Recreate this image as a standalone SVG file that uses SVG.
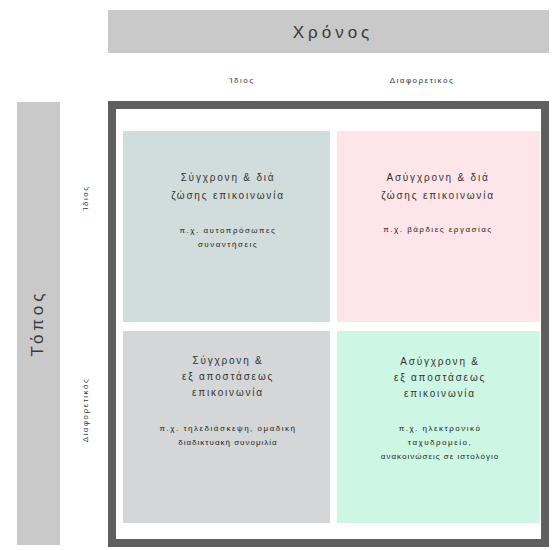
<svg xmlns="http://www.w3.org/2000/svg" width="552" height="550" viewBox="0 0 552 550">
<style>
.bar{fill:#c9c9c9}
.axis{font-family:"Liberation Sans","DejaVu Sans",sans-serif;font-size:17px;fill:#3a3a3a;letter-spacing:4px;text-anchor:middle}
.lab{font-family:"Liberation Sans","DejaVu Sans",sans-serif;font-size:8px;fill:#333;letter-spacing:1.5px;text-anchor:middle}
.t{font-family:"Liberation Sans","DejaVu Sans",sans-serif;font-size:10px;fill:#333;letter-spacing:1.8px;text-anchor:middle}
.e{font-family:"Liberation Sans","DejaVu Sans",sans-serif;font-size:8px;fill:#222;letter-spacing:1.5px;text-anchor:middle}
</style>
<rect width="552" height="550" fill="#fff"/>
<g id="time-axis">
<rect class="bar" x="108" y="10" width="441" height="43"/>
<text class="axis" x="333" y="38">Χρόνος</text>
<text class="lab" x="242" y="83">Ίδιος</text>
<text class="lab" x="422" y="83">Διαφορετικός</text>
</g>
<g id="place-axis">
<rect class="bar" x="17" y="102" width="43" height="443"/>
<text class="axis" transform="translate(43,323) rotate(-90)">Τόπος</text>
<text class="lab" transform="translate(88,198) rotate(-90)">Ίδιος</text>
<text class="lab" transform="translate(88,410) rotate(-90)">Διαφορετικός</text>
</g>
<g id="frame">
<rect x="112" y="105" width="433" height="438" fill="#fff" stroke="#5f5f5f" stroke-width="8"/>
</g>
<g id="q-same-same">
<rect x="123" y="131" width="207" height="191" fill="#d1dcdc"/>
<text class="t" x="228" y="181">Σύγχρονη &amp; διά</text>
<text class="t" x="228" y="199">ζώσης επικοινωνία</text>
<text class="e" x="228" y="233">π.χ. αυτοπρόσωπες</text>
<text class="e" x="228" y="247">συναντήσεις</text>
</g>
<g id="q-diff-same">
<rect x="337" y="131" width="203" height="191" fill="#fde5e9"/>
<text class="t" x="438" y="181">Ασύγχρονη &amp; διά</text>
<text class="t" x="438" y="199">ζώσης επικοινωνία</text>
<text class="e" x="438" y="232">π.χ. βάρδιες εργασίας</text>
</g>
<g id="q-same-diff">
<rect x="123" y="331" width="207" height="192" fill="#d4d6d8"/>
<text class="t" x="228" y="364">Σύγχρονη &amp;</text>
<text class="t" x="228" y="380">εξ αποστάσεως</text>
<text class="t" x="228" y="396">επικοινωνία</text>
<text class="e" x="228" y="431">π.χ. τηλεδιάσκεψη, ομαδική</text>
<text class="e" x="228" y="445" style="letter-spacing:1px">διαδικτυακή συνομιλία</text>
</g>
<g id="q-diff-diff">
<rect x="337" y="331" width="203" height="192" fill="#cdf6e5"/>
<text class="t" x="440" y="365">Ασύγχρονη &amp;</text>
<text class="t" x="440" y="381">εξ αποστάσεως</text>
<text class="t" x="440" y="397">επικοινωνία</text>
<text class="e" x="440" y="431">π.χ. ηλεκτρονικό</text>
<text class="e" x="440" y="445">ταχυδρομείο,</text>
<text class="e" x="440" y="459" style="letter-spacing:1px">ανακοινώσεις σε ιστολόγιο</text>
</g>
</svg>
